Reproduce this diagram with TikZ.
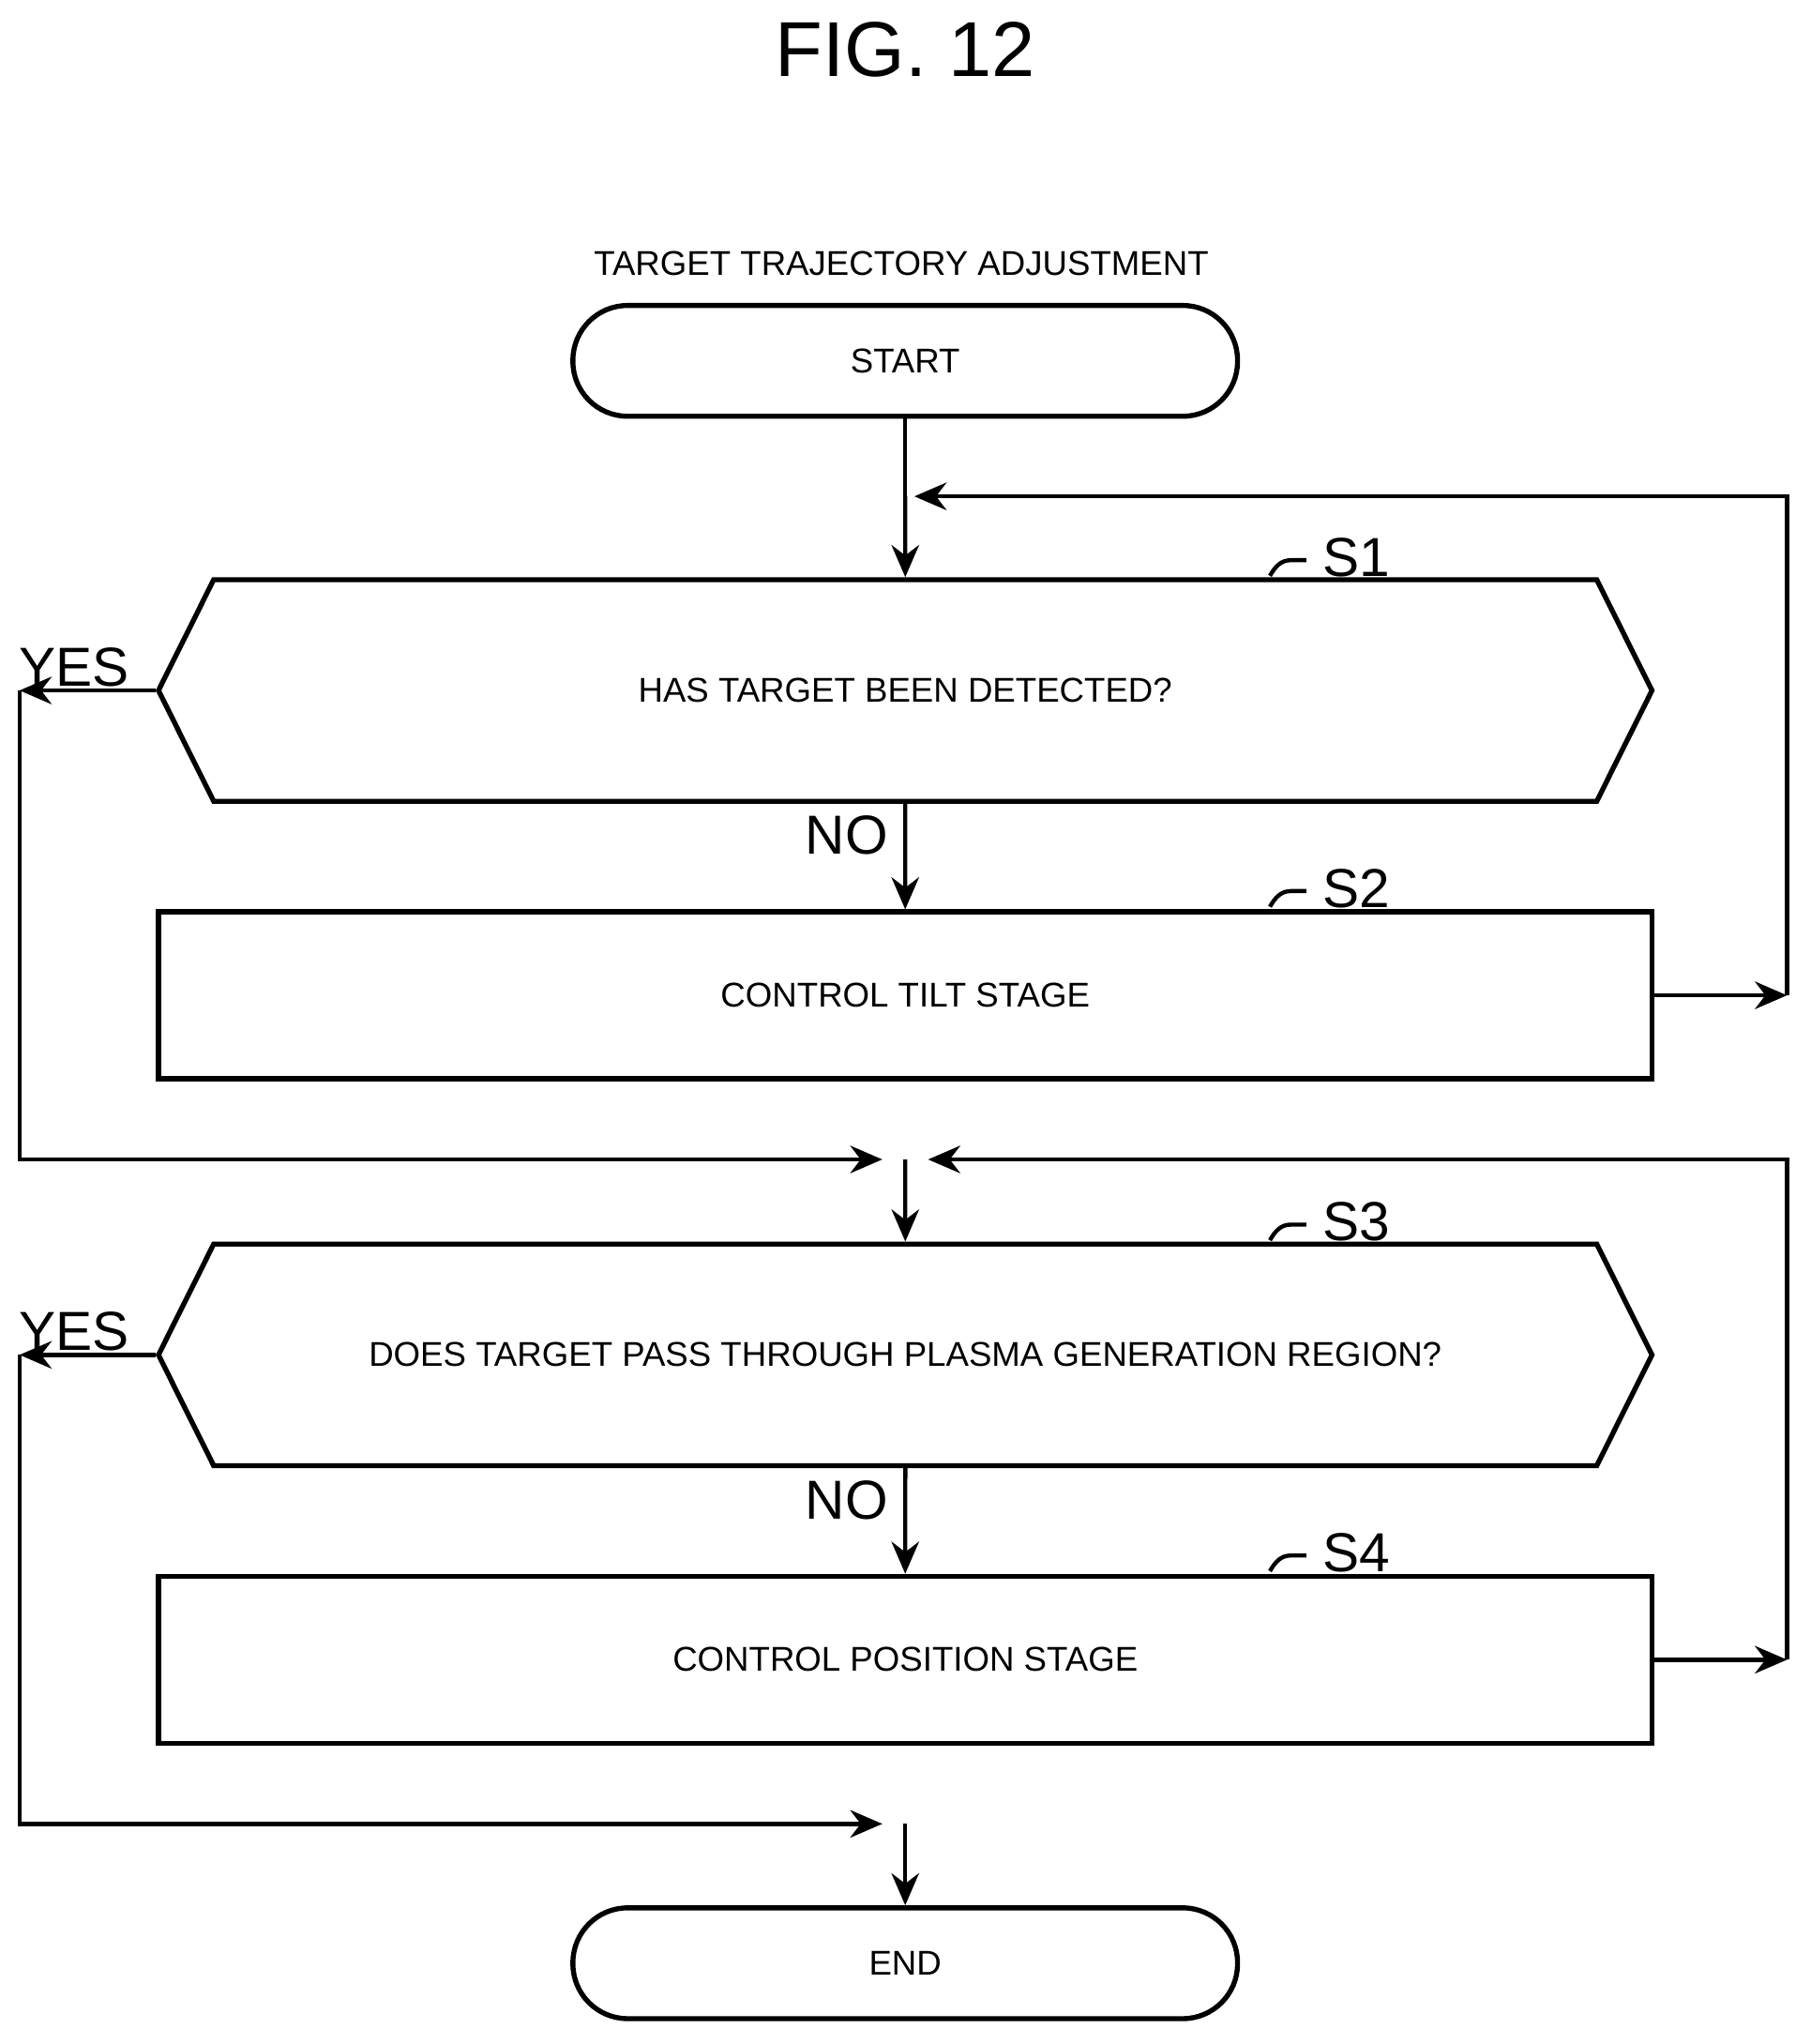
\documentclass[tikz,border=0pt]{standalone}
\usepackage{fontspec}
\setmainfont{Liberation Sans}
\usetikzlibrary{positioning, arrows.meta, shapes, fit}

\begin{document}
\begin{tikzpicture}[
        x=0.01cm, y=-0.01cm,
        every node/.style={font=\fontsize{7.5}{9}\selectfont},
        action/.style={draw, line width=1.1pt, rectangle, minimum width=11.46cm, minimum height=1.28cm, align=center},
        query/.style={draw, line width=1.1pt, signal, signal to=west and east, signal pointer angle=127, minimum width=11.46cm, minimum height=1.7cm, align=center, inner xsep=0pt},
        terminal/.style={draw, line width=1.1pt, rectangle, rounded corners=0.42cm, minimum width=5.1cm, minimum height=0.85cm},
        tag/.style={font=\fontsize{12}{14}\selectfont},
        flow/.style={line width=0.9pt, -{Stealth[length=7pt, width=6pt]}},
        line/.style={line width=0.9pt}
    ]
    \useasboundingbox (0,0) rectangle (1390,1569);

    % Titel
    \node[font=\fontsize{17}{20}\selectfont] (fig) at (695,38) {FIG. 12};
    \node (caption) at (692,202) {TARGET TRAJECTORY ADJUSTMENT};

    % Start und Ende
    \node[terminal] (start) at (695,277) {START};
    \node[terminal] (end) at (695,1507) {END};

    % Abfragen und Schritte
    \node[query] (s1) at (695,530) {HAS TARGET BEEN DETECTED?};
    \node[action] (s2) at (695,764) {CONTROL TILT STAGE};
    \node[query] (s3) at (695,1040) {DOES TARGET PASS THROUGH PLASMA GENERATION REGION?};
    \node[action] (s4) at (695,1274) {CONTROL POSITION STAGE};

    % Schrittnummern
    \foreach \s/\y in {1/428, 2/682, 3/938, 4/1192} {
        \node[tag, anchor=west] (lab\s) at (1003,\y) {S\s};
        \draw[line] (lab\s.west) ++(0,2) -- ++(-12,0) to[out=180, in=60] ++(-16,12);
    }

    % Hilfspunkte
    \coordinate (loopA) at (1372,764);
    \coordinate (loopB) at (1372,1274);
    \coordinate (joinA) at (695,381);
    \coordinate (joinB) at (695,890);
    \coordinate (joinC) at (695,1400);
    \coordinate (yesA) at (15,530);
    \coordinate (yesB) at (15,1040);

    % Verbindungen
    \draw[line] (start) -- (joinA);
    \draw[flow] (joinA) -- (s1);
    \draw[flow] (s1) -- node[tag, left, pos=0.3] {NO} (s2);
    \draw[flow] (s2) -- (loopA);
    \draw[flow] (loopA) |- ([xshift=2pt]joinA);
    \draw[flow] (s1.west) -- node[tag, above, pos=0.6, yshift=-3pt] {YES} (yesA);
    \draw[flow] (yesA) |- ([xshift=-5pt]joinB);
    \draw[flow] (loopB) |- ([xshift=5pt]joinB);
    \draw[flow] (joinB) -- (s3);
    \draw[flow] (s3) -- node[tag, left, pos=0.3] {NO} (s4);
    \draw[flow] (s4) -- (loopB);
    \draw[flow] (s3.west) -- node[tag, above, pos=0.6, yshift=-3pt] {YES} (yesB);
    \draw[flow] (yesB) |- ([xshift=-5pt]joinC);
    \draw[flow] (joinC) -- (end);
\end{tikzpicture}
\end{document}
